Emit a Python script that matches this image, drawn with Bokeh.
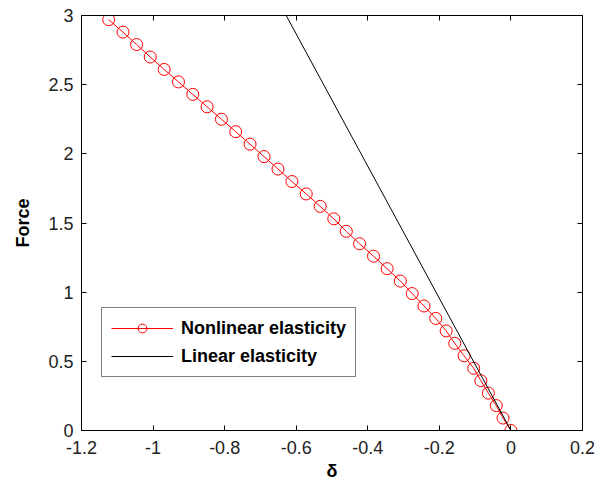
from bokeh.plotting import figure
from bokeh.models import LinearAxis, FixedTicker, Range1d, Legend, LegendItem, CustomLabelingPolicy
from bokeh.embed import file_html
from bokeh.resources import INLINE

# Nonlinear elasticity (red, circles): Force and displacement delta
force_nl = [0.00, 0.09, 0.18, 0.27, 0.36, 0.45, 0.54, 0.63, 0.72, 0.81,
            0.90, 0.99, 1.08, 1.17, 1.26, 1.35, 1.44, 1.53, 1.62, 1.71,
            1.80, 1.89, 1.98, 2.07, 2.16, 2.25, 2.34, 2.43, 2.52, 2.61,
            2.70, 2.79, 2.88, 2.97]
delta_nl = [0.000, -0.022, -0.041, -0.063, -0.084, -0.104, -0.131, -0.157, -0.181, -0.210,
            -0.243, -0.276, -0.309, -0.346, -0.384, -0.423, -0.460, -0.495, -0.533, -0.572,
            -0.612, -0.651, -0.690, -0.729, -0.769, -0.809, -0.849, -0.889, -0.929, -0.969,
            -1.008, -1.046, -1.084, -1.124]

# Linear elasticity (black line)
force_lin = [0.0, 3.0]
delta_lin = [0.0, -0.628]

x_ticks = [-1.2, -1.0, -0.8, -0.6, -0.4, -0.2, 0.0, 0.2]
x_tick_labels = ["-1.2", "-1", "-0.8", "-0.6", "-0.4", "-0.2", "0", "0.2"]
y_ticks = [0.0, 0.5, 1.0, 1.5, 2.0, 2.5, 3.0]
y_tick_labels = ["0", "0.5", "1", "1.5", "2", "2.5", "3"]

FONT = "Liberation Sans"

p = figure(width=606, height=484, output_backend="svg", toolbar_location=None,
           x_range=Range1d(-1.2, 0.2), y_range=Range1d(0, 3),
           min_border_left=81, min_border_right=24, min_border_top=15, min_border_bottom=54)
p.xgrid.visible = False
p.ygrid.visible = False
p.outline_line_color = "black"
p.outline_line_width = 1
p.background_fill_color = "white"
p.border_fill_color = "white"

# data
l1 = p.line(delta_nl, force_nl, line_color="red", line_width=1)
s1 = p.scatter(delta_nl, force_nl, marker="circle", size=12, line_color="red",
               fill_color=None, line_width=1)
l2 = p.line(delta_lin, force_lin, line_color="black", line_width=1)

def style_axis(ax, ticks, labels, show_labels=True):
    ax.ticker = FixedTicker(ticks=ticks)
    ax.major_tick_in = 5
    ax.major_tick_out = 0
    ax.minor_tick_line_color = None
    ax.axis_line_color = "black"
    ax.major_tick_line_color = "black"
    ax.major_label_text_font = FONT
    if show_labels:
        ax.major_label_overrides = {t: lab for t, lab in zip(ticks, labels)}
        ax.major_label_text_font_size = "18px"
        ax.major_label_text_color = "#222222"
    else:
        ax.major_label_policy = CustomLabelingPolicy(
            code="return new indices.constructor(indices.size)")
        ax.major_label_text_font_size = "0px"
        ax.major_label_text_color = None
        ax.major_label_standoff = 0

style_axis(p.xaxis[0], x_ticks, x_tick_labels)
style_axis(p.yaxis[0], y_ticks, y_tick_labels)
p.xaxis[0].major_label_standoff = 10
p.yaxis[0].major_label_standoff = 8
p.xaxis[0].axis_label = "δ"
p.yaxis[0].axis_label = "Force"
for ax in (p.xaxis[0], p.yaxis[0]):
    ax.axis_label_text_font = FONT
    ax.axis_label_text_font_size = "18px"
    ax.axis_label_text_font_style = "bold"
    ax.axis_label_text_color = "black"
p.xaxis[0].axis_label_standoff = 4
p.yaxis[0].axis_label_standoff = 12

top = LinearAxis()
style_axis(top, x_ticks, x_tick_labels, show_labels=False)
p.add_layout(top, "above")
right = LinearAxis()
style_axis(right, y_ticks, y_tick_labels, show_labels=False)
p.add_layout(right, "right")

legend = Legend(items=[
    LegendItem(label="Nonlinear elasticity", renderers=[l1, s1]),
    LegendItem(label="Linear elasticity", renderers=[l2]),
], location=(20, 53))
legend.label_text_font = FONT
legend.label_text_font_size = "18px"
legend.label_text_font_style = "bold"
legend.label_text_color = "black"
legend.border_line_color = "black"
legend.border_line_width = 1
legend.glyph_width = 62
legend.glyph_height = 22
legend.label_height = 22
legend.spacing = 6
legend.padding = 9
legend.margin = 0
legend.label_standoff = 8
legend.background_fill_alpha = 1
p.add_layout(legend, "center")

open("out.html", "w").write(file_html(p, INLINE))
